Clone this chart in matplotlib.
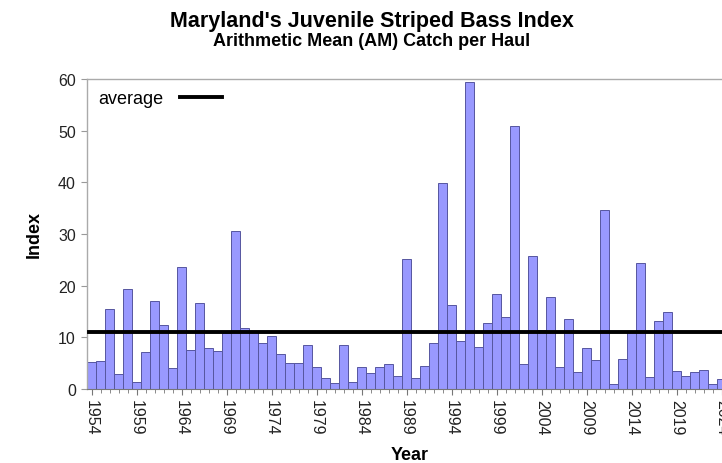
import matplotlib
matplotlib.use("Agg")
import matplotlib.pyplot as plt
import numpy as np

plt.rcParams['font.family'] = ['Liberation Sans', 'DejaVu Sans']

years = list(range(1954, 2025))
index_values = [
    5.2, 5.4, 15.4, 3.0, 19.4, 1.4, 7.2, 17.0, 12.3, 4.1,   # 1954-1963
    23.6, 7.6, 16.7, 7.9, 7.3, 10.8, 30.6, 11.8, 11.0, 8.9,  # 1964-1973
    10.2, 6.8, 5.1, 5.0, 8.5, 4.3, 2.2, 1.2, 8.5, 1.4,       # 1974-1983
    4.2, 3.1, 4.2, 4.8, 2.6, 25.2, 2.2, 4.4, 8.9, 39.8,      # 1984-1993
    16.2, 9.3, 59.5, 8.1, 12.7, 18.3, 13.9, 50.9, 4.8, 25.8,  # 1994-2003
    11.5, 17.9, 4.3, 13.5, 3.2, 8.0, 5.7, 34.6, 0.9, 5.8,    # 2004-2013
    11.0, 24.3, 2.3, 13.2, 14.9, 3.5, 2.6, 3.2, 3.7, 1.0,    # 2014-2023
    1.9,                                                     # 2024
]
average_value = 11.0
tick_years = list(range(1954, 2025, 5))
y_ticks = [0, 10, 20, 30, 40, 50, 60]

W, H = 722, 464
fig = plt.figure(figsize=(W / 100, H / 100), dpi=100)
ax_left, ax_right, ax_top, ax_bottom = 87, 726, 80, 390
ax = fig.add_axes([ax_left / W, 1 - ax_bottom / H,
                   (ax_right - ax_left) / W, (ax_bottom - ax_top) / H])

ax.bar(years, index_values, width=1.0, color='#9999FF',
       edgecolor='#5656A0', linewidth=0.7, zorder=2)
ax.plot([years[0] - 0.3, years[-1] + 1], [average_value, average_value],
        color='black', linewidth=2.8, zorder=3, label='average')

ax.set_xlim(years[0] - 0.5, years[-1] + 0.5)
ax.set_ylim(0, 60)
ax.set_yticks(y_ticks)
ax.set_xticks(tick_years)
ax.set_xticks(years, minor=True)
ax.set_xticklabels([str(y) for y in tick_years], rotation=270,
                   fontsize=11.5, color='#222222')
ax.tick_params(axis='y', labelsize=11.5, labelcolor='#222222',
               length=4, color='#999999', pad=4)
ax.tick_params(axis='x', which='major', length=4, color='#777777', pad=3)
ax.tick_params(axis='x', which='minor', length=3, color='#777777')

for side in ['top', 'left']:
    ax.spines[side].set_color('#AAAAAA')
    ax.spines[side].set_linewidth(1.0)
ax.spines['bottom'].set_color('#777777')
ax.spines['right'].set_visible(False)

ax.set_ylabel('Index', fontsize=13, fontweight='bold', labelpad=11)

leg = ax.legend(loc='upper left', frameon=False, markerfirst=False,
                handlelength=2.3, fontsize=13, borderaxespad=0.2,
                handletextpad=0.95)

fig.text(410 / W, 1 - 456 / H, "Year", ha='center', va='center',
         fontsize=13, fontweight='bold')
fig.text(372 / W, 1 - 22 / H, "Maryland's Juvenile Striped Bass Index",
         ha='center', va='center', fontsize=15.5, fontweight='bold')
fig.text(372 / W, 1 - 42 / H, "Arithmetic Mean (AM) Catch per Haul",
         ha='center', va='center', fontsize=13, fontweight='bold')

fig.savefig('out.png', dpi=100)
